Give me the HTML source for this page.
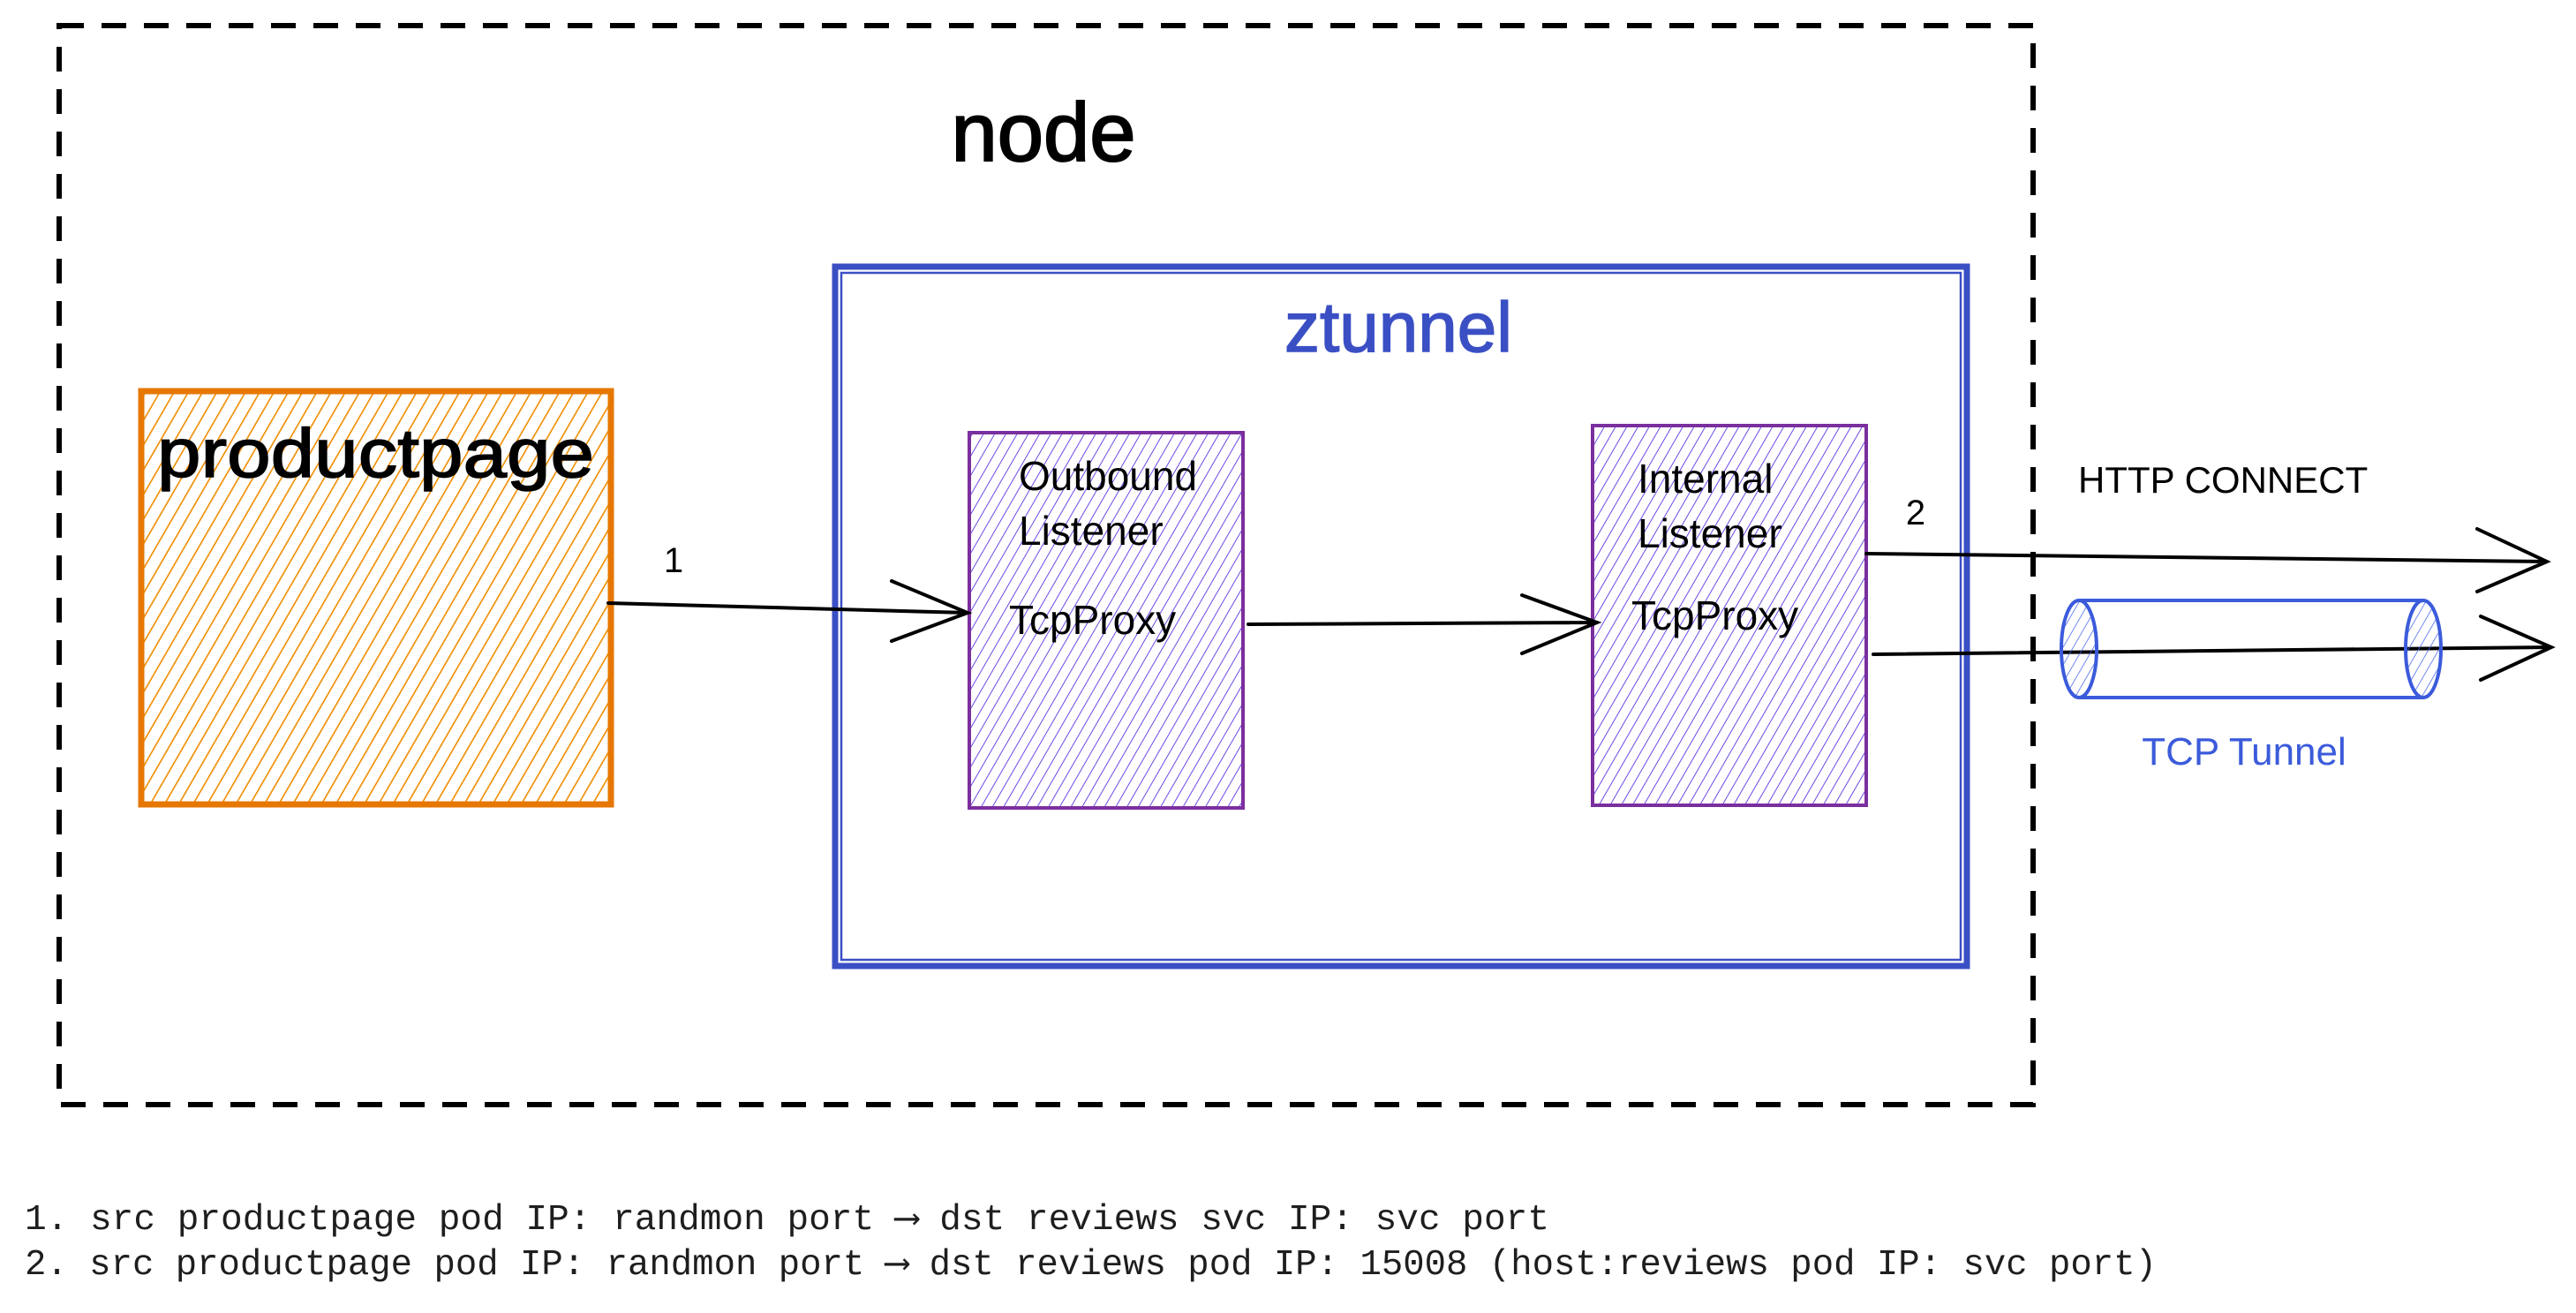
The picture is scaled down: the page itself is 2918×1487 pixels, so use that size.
<!DOCTYPE html>
<html><head><meta charset="utf-8"><style>
html,body{margin:0;padding:0;background:#fff}
svg{display:block}
.h{font-family:"Liberation Sans",sans-serif}
.m{font-family:"Liberation Mono","DejaVu Sans Mono",monospace;font-size:41px;fill:#1e1e1e}
</style></head><body>
<svg width="2918" height="1487" viewBox="0 0 2918 1487" xmlns="http://www.w3.org/2000/svg">
<defs>
<pattern id="po" width="14" height="14" patternUnits="userSpaceOnUse" patternTransform="rotate(30)">
<line x1="0" y1="0" x2="0" y2="14" stroke="#f08c00" stroke-width="3.2"/></pattern>
<pattern id="pp" width="11" height="11" patternUnits="userSpaceOnUse" patternTransform="rotate(30)">
<line x1="0" y1="0" x2="0" y2="11" stroke="#7048e8" stroke-width="2"/></pattern>
<pattern id="pb" width="10" height="10" patternUnits="userSpaceOnUse" patternTransform="rotate(30)">
<line x1="0" y1="0" x2="0" y2="10" stroke="#4263eb" stroke-width="1.5"/></pattern>
</defs>
<rect width="2918" height="1487" fill="#fff"/>
<rect x="67" y="29" width="2236" height="1222" fill="none" stroke="#000" stroke-width="6" stroke-dasharray="28 20"/>
<text class="h" x="1182" y="182" font-size="94" text-anchor="middle" fill="#000" stroke="#000" stroke-width="2">node</text>
<rect x="946" y="302" width="1282" height="792" fill="none" stroke="#3b4fc4" stroke-width="7"/>
<rect x="953" y="309" width="1268" height="778" fill="none" stroke="#3b4fc4" stroke-width="2.5"/>
<text class="h" x="1584" y="398" font-size="80" text-anchor="middle" fill="#3b4fc4" stroke="#3b4fc4" stroke-width="1.5">ztunnel</text>
<rect x="160" y="443" width="532" height="468" fill="url(#po)" stroke="#e67700" stroke-width="7"/>
<text class="h" x="178" y="540" font-size="78" textLength="495" lengthAdjust="spacingAndGlyphs" fill="#000" stroke="#000" stroke-width="1.5">productpage</text>
<rect x="1098" y="490" width="310" height="425" fill="url(#pp)" stroke="#7b2f9e" stroke-width="4"/>
<text class="h" x="1154" y="555" font-size="46" fill="#000">Outbound</text>
<text class="h" x="1154" y="617" font-size="46" fill="#000">Listener</text>
<text class="h" x="1143" y="718" font-size="46" fill="#000">TcpProxy</text>
<rect x="1804" y="482" width="310" height="430" fill="url(#pp)" stroke="#7b2f9e" stroke-width="4"/>
<text class="h" x="1855" y="558" font-size="46" fill="#000">Internal</text>
<text class="h" x="1855" y="620" font-size="46" fill="#000">Listener</text>
<text class="h" x="1848" y="713" font-size="46" fill="#000">TcpProxy</text>
<g stroke="#000" stroke-width="4" fill="none" stroke-linecap="round">
<path d="M689 683 L1096 694 M1010 658 L1096 694 L1010 726"/>
<path d="M1414 707 L1809 705 M1724 674 L1809 705 L1724 740"/>
<path d="M2114 627 L2885 636 M2806 599 L2885 636 L2806 670"/>
<path d="M2122 741 L2890 733 M2810 698 L2890 733 L2810 770"/>
</g>
<text class="h" x="763" y="648" font-size="40" text-anchor="middle" fill="#000">1</text>
<text class="h" x="2170" y="594" font-size="40" text-anchor="middle" fill="#000">2</text>
<text class="h" x="2354" y="558" font-size="42" fill="#000">HTTP CONNECT</text>
<g stroke="#3b5bdb" stroke-width="4">
<line x1="2355" y1="680" x2="2745" y2="680"/>
<line x1="2355" y1="790" x2="2745" y2="790"/>
<ellipse cx="2355" cy="735" rx="20" ry="55" fill="url(#pb)"/>
<ellipse cx="2745" cy="735" rx="20" ry="55" fill="url(#pb)"/>
</g>
<text class="h" x="2542" y="866" font-size="44" text-anchor="middle" fill="#3b5bdb">TCP Tunnel</text>
<text class="m" x="28" y="1392" textLength="1727" lengthAdjust="spacingAndGlyphs">1. src productpage pod IP: randmon port ⟶ dst reviews svc IP: svc port</text>
<text class="m" x="28" y="1443" textLength="2415" lengthAdjust="spacingAndGlyphs">2. src productpage pod IP: randmon port ⟶ dst reviews pod IP: 15008 (host:reviews pod IP: svc port)</text>
</svg>
</body></html>
